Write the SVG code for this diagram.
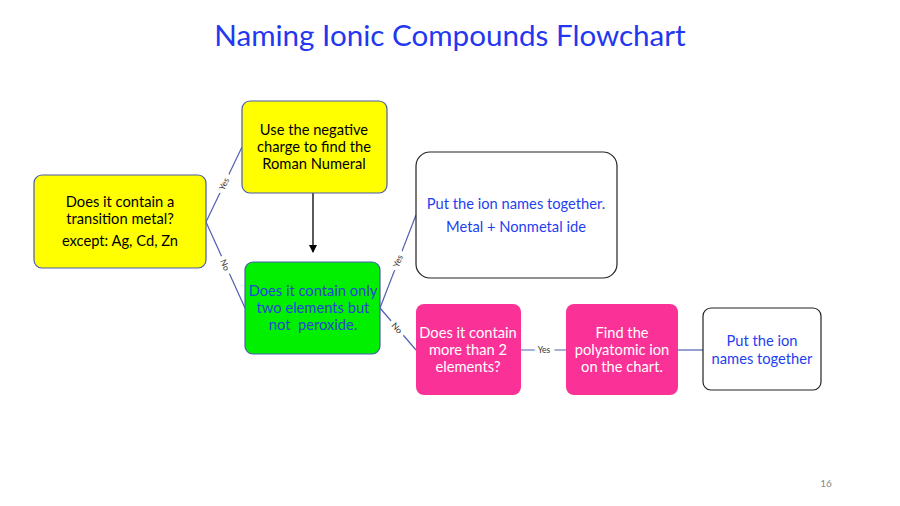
<svg xmlns="http://www.w3.org/2000/svg" width="900" height="506" viewBox="0 0 900 506">
<defs>
<marker id="arr" markerWidth="8" markerHeight="8" refX="7" refY="4" orient="auto" markerUnits="userSpaceOnUse">
<path d="M0,0 L8,4 L0,8 Z" fill="#000"/>
</marker>
<style>
text{font-family:Lato,"Open Sans","Liberation Sans",sans-serif}
.t{font-size:14.7px;fill:#000;text-anchor:middle}
.w{font-size:14.7px;fill:#fff;text-anchor:middle}
.b{font-size:14.7px;fill:#1f3ff0;text-anchor:middle}
.yel{fill:#ffff00;stroke:#4a5bb0;stroke-width:1.2}
.grn{fill:#00f000;stroke:#4a5bb0;stroke-width:1.2}
.pnk{fill:#fa3196;stroke:none}
.wht{fill:#fff;stroke:#222;stroke-width:1.2}
.c{stroke:#5060b0;stroke-width:1.2;fill:none}
.lbl{font-size:8.5px;fill:#333;text-anchor:middle;dominant-baseline:central;stroke:#fff;stroke-width:9;paint-order:stroke}
</style>
</defs>
<rect width="900" height="506" fill="#fff"/>
<text x="450" y="46" style="font-size:29.6px;fill:#2437f0;text-anchor:middle">Naming Ionic Compounds Flowchart</text>

<g id="connectors">
<line class="c" x1="206" y1="222" x2="242" y2="147"/>
<line class="c" x1="206" y1="222" x2="245" y2="308"/>
<line class="c" x1="380" y1="308" x2="416" y2="215"/>
<line class="c" x1="380" y1="308" x2="416" y2="350"/>
<line class="c" x1="521" y1="350" x2="566" y2="350"/>
<line class="c" x1="678" y1="350" x2="703" y2="350"/>
<line x1="313" y1="193" x2="313" y2="252" stroke="#000" stroke-width="1.3" marker-end="url(#arr)"/>
<text class="lbl" transform="translate(224,184) rotate(-64)">Yes</text>
<text class="lbl" transform="translate(225,265) rotate(66)">No</text>
<text class="lbl" transform="translate(398,261) rotate(-69)">Yes</text>
<text class="lbl" transform="translate(397,328) rotate(49)">No</text>
<text class="lbl" x="544" y="350">Yes</text>
</g>

<g id="n1">
<rect class="yel" x="34" y="175" width="172" height="93" rx="8"/>
<text class="t" x="120" y="207">Does it contain a</text>
<text class="t" x="120" y="224">transition metal?</text>
<text class="t" x="120" y="246">except: Ag, Cd, Zn</text>
</g>
<g id="n2">
<rect class="yel" x="242" y="101" width="145" height="92" rx="8"/>
<text class="t" x="314" y="135">Use the negative</text>
<text class="t" x="314" y="152">charge to find the</text>
<text class="t" x="314" y="169">Roman Numeral</text>
</g>
<g id="n3">
<rect class="grn" x="245" y="262" width="135" height="92" rx="8"/>
<text class="b" x="313" y="296" style="fill:#2444d8">Does it contain only</text>
<text class="b" x="313" y="313" style="fill:#2444d8">two elements but</text>
<text class="b" x="313" y="330" style="fill:#2444d8" xml:space="preserve">not  peroxide.</text>
</g>
<g id="n4">
<rect class="wht" x="416" y="152" width="201" height="126" rx="14"/>
<text class="b" x="516" y="209">Put the ion names together.</text>
<text class="b" x="516" y="232">Metal + Nonmetal ide</text>
</g>
<g id="n5">
<rect class="pnk" x="416" y="304" width="105" height="91" rx="8"/>
<text class="w" x="468" y="338">Does it contain</text>
<text class="w" x="468" y="355">more than 2</text>
<text class="w" x="468" y="372">elements?</text>
</g>
<g id="n6">
<rect class="pnk" x="566" y="304" width="112" height="91" rx="8"/>
<text class="w" x="622" y="338">Find the</text>
<text class="w" x="622" y="355">polyatomic ion</text>
<text class="w" x="622" y="372">on the chart.</text>
</g>
<g id="n7">
<rect class="wht" x="703" y="308" width="118" height="82" rx="8"/>
<text class="b" x="762" y="346">Put the ion</text>
<text class="b" x="762" y="364">names together</text>
</g>
<text x="826" y="487" style="font-size:10px;fill:#888;text-anchor:middle">16</text>
</svg>
